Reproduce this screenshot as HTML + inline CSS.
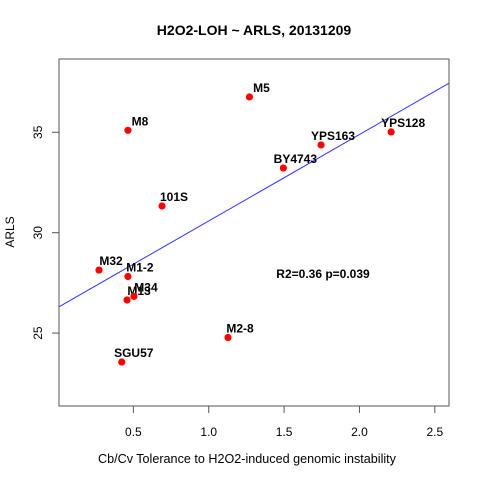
<!DOCTYPE html>
<html><head><meta charset="utf-8"><style>
html,body{margin:0;padding:0;background:#fff;}
svg text{font-family:"Liberation Sans",Arial,sans-serif;}
</style></head><body>
<svg id="chart" width="480" height="480" xmlns="http://www.w3.org/2000/svg">
<rect width="480" height="480" fill="#fff"/>
<text x="254" y="35" text-anchor="middle" font-size="14" font-weight="bold">H2O2-LOH ~ ARLS, 20131209</text>
<text x="247" y="463" text-anchor="middle" font-size="12.6">Cb/Cv Tolerance to H2O2-induced genomic instability</text>
<text transform="translate(14,232) rotate(-90)" text-anchor="middle" font-size="12">ARLS</text>
<g id="marks"></g>
<rect x="59" y="59" width="390" height="347" fill="none" stroke="#555" stroke-width="1"/>
<text x="323" y="278" text-anchor="middle" font-size="12" font-weight="bold">R2=0.36 p=0.039</text>
</svg>
<script>
const labels=["M8","101S","M32","M1-2","M13","M34","SGU57","M2-8","M5","YPS163","YPS128","BY4743"];
const xVals=[0.464,0.690,0.272,0.464,0.458,0.504,0.423,1.128,1.270,1.745,2.210,1.495];
const yVals=[35.1,31.33,28.14,27.82,26.65,26.83,23.56,24.78,36.76,34.37,35.02,33.22];
const xTicks=[0.5,1.0,1.5,2.0,2.5];
const xTickLabels=["0.5","1.0","1.5","2.0","2.5"];
const yTicks=[25,30,35];
const yTickLabels=["25","30","35"];
const fitIntercept=26.28;
const fitSlope=4.305;
const xMin=0.0066,xMax=2.594,yMin=21.37,yMax=38.65;
const L=59,R=449,T=59,B=406;
const sx=v=>L+(v-xMin)/(xMax-xMin)*(R-L);
const sy=v=>B-(v-yMin)/(yMax-yMin)*(B-T);
const NS="http://www.w3.org/2000/svg";
const g=document.getElementById('marks');
function mk(tag,attrs){const e=document.createElementNS(NS,tag);for(const k in attrs)e.setAttribute(k,attrs[k]);g.appendChild(e);return e;}
let ax=mk('line',{x1:sx(xTicks[0]),x2:sx(xTicks[xTicks.length-1]),y1:B,y2:B,stroke:'#555'});


xTicks.forEach((t,i)=>{
 let l=mk('line',{x1:sx(t),x2:sx(t),y1:B,y2:B+7,stroke:'#555'});
 
 
 let tx=mk('text',{x:sx(t),y:B+30,'text-anchor':'middle','font-size':12});
 tx.textContent=xTickLabels[i];
 
 
});
let ay=mk('line',{x1:L,x2:L,y1:sy(yTicks[0]),y2:sy(yTicks[yTicks.length-1]),stroke:'#555'});


yTicks.forEach((t,i)=>{
 let l=mk('line',{x1:L-7,x2:L,y1:sy(t),y2:sy(t),stroke:'#555'});
 
 
 let tx=mk('text',{transform:`translate(${L-17},${sy(t)}) rotate(-90)`,'text-anchor':'middle','font-size':12});
 tx.textContent=yTickLabels[i];
 
 
});
let fl=mk('line',{x1:sx(xMin),y1:sy(fitIntercept+fitSlope*xMin),x2:sx(xMax),y2:sy(fitIntercept+fitSlope*xMax),stroke:'#3333ff','stroke-width':1});


labels.forEach((lab,i)=>{
 let c=mk('circle',{cx:sx(xVals[i]),cy:sy(yVals[i]),r:3.6,fill:'#ff0000'});
 
 
 let t=mk('text',{x:sx(xVals[i])+12,y:sy(yVals[i])-5,'text-anchor':'middle','font-size':12,'font-weight':'bold'});
 t.textContent=lab;
 
 
});
</script>
</body></html>
